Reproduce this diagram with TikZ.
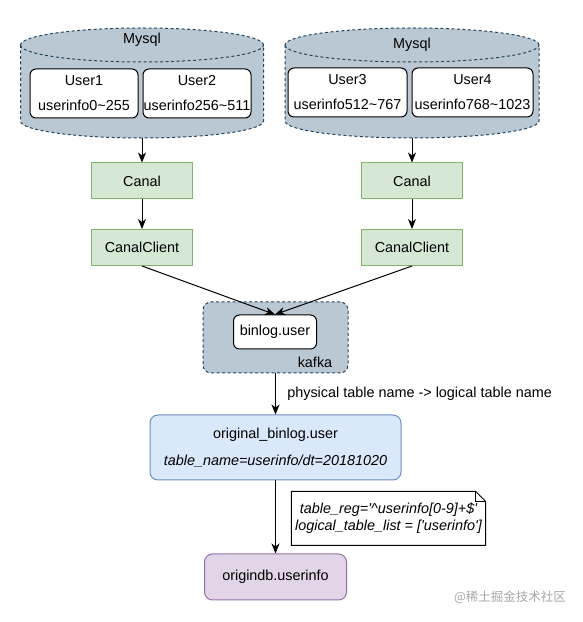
\documentclass[tikz,border=0pt]{standalone}
\usepackage{fontspec}
\setmainfont{Liberation Sans}
\newfontfamily\cjk{Noto Sans CJK SC}
\usetikzlibrary{arrows.meta}
\definecolor{dbfill}{HTML}{BAC8D3}
\definecolor{dbline}{HTML}{23445D}
\definecolor{greenfill}{HTML}{D5E8D4}
\definecolor{greenline}{HTML}{82B366}
\definecolor{bluefill}{HTML}{DAE8FC}
\definecolor{blueline}{HTML}{6C8EBF}
\definecolor{purplefill}{HTML}{E1D5E7}
\definecolor{purpleline}{HTML}{9673A6}

\begin{document}
\begin{tikzpicture}[x=1pt,y=1pt,>={Stealth[length=10pt,width=8pt,inset=3pt]},
  font=\fontsize{14.4}{17}\selectfont, line width=1pt,
  dbline/.style={draw=dbline,dash pattern=on 3pt off 2.5pt},
  tablebox/.style={draw,fill=white,rounded corners=6pt,align=center,inner sep=0pt,minimum height=49pt},
  canalbox/.style={draw=greenline,fill=greenfill,minimum width=101pt,minimum height=36pt},
  roundbox/.style={rounded corners=8pt,align=center}]
\useasboundingbox (0,0) rectangle (583,622);
\foreach \cx/\rx/\nm in {142/121.5/dbA,412/127/dbB}{
  \draw[dbline,fill=dbfill] (\cx-\rx,577) -- (\cx-\rx,501)
    arc[start angle=180,end angle=360,x radius=\rx,y radius=17] -- (\cx+\rx,577)
    arc[start angle=0,end angle=180,x radius=\rx,y radius=17] -- cycle;
  \draw[dbline] (\cx-\rx,577) arc[start angle=180,end angle=360,x radius=\rx,y radius=17];
  \coordinate (\nm) at (\cx,484);
}
\node (mysqlA) at (142,582) {Mysql};
\node (mysqlB) at (412,577) {Mysql};
\node[tablebox,minimum width=108pt] (user1) at (84,528.5) {User1\\[8pt]userinfo0\textasciitilde255};
\node[tablebox,minimum width=108pt] (user2) at (197,528.5) {User2\\[8pt]userinfo256\textasciitilde511};
\node[tablebox,minimum width=119pt] (user3) at (347.5,529.5) {User3\\[8pt]userinfo512\textasciitilde767};
\node[tablebox,minimum width=121pt] (user4) at (472.5,529.5) {User4\\[8pt]userinfo768\textasciitilde1023};

\node[canalbox] (canalA) at (142,441) {Canal};
\node[canalbox] (clientA) at (142,374.5) {CanalClient};
\node[canalbox] (canalB) at (412,441) {Canal};
\node[canalbox] (clientB) at (412,374.5) {CanalClient};

\node[dbline,fill=dbfill,roundbox,minimum width=145pt,minimum height=71pt] (kafka) at (275.5,284.5) {};
\node[tablebox,minimum width=83pt,minimum height=34pt] (binlog) at (275,290) {binlog.user};
\node (kafkalbl) at (315,260) {kafka};

\node[draw=blueline,fill=bluefill,roundbox,minimum width=251pt,minimum height=65pt] (orig) at (275.5,174.5)
  {original\_binlog.user\\[10pt]\itshape table\_name=userinfo/dt=20181020};
\node[fill=white,minimum width=193pt,minimum height=53pt,align=center,font=\fontsize{14.4}{17}\selectfont\itshape] (rule) at (388.5,103.5)
  {table\_reg=\textquotesingle\textasciicircum userinfo[0-9]+\$\textquotesingle\\logical\_table\_list = [\textquotesingle userinfo\textquotesingle]};
\draw (rule.south west) -- (rule.south east) -- ([yshift=-10pt]rule.north east)
  -- ([xshift=-10pt]rule.north east) -- (rule.north west) -- cycle;
\draw ([xshift=-10pt]rule.north east) -- ++(0,-10) -- ++(10,0);
\node[draw=purpleline,fill=purplefill,roundbox,minimum width=142pt,minimum height=46pt] (origdb) at (275.5,45) {origindb.userinfo};
\node[text=black!35,font=\cjk\fontsize{12.5}{14}\selectfont] (mark) at (510,25) {@稀土掘金技术社区};

\draw[->] (dbA) -- (canalA);
\draw[->] (canalA) -- (clientA);
\draw[->] (dbB) -- (canalB);
\draw[->] (canalB) -- (clientB);
\draw[->] (clientA.south) -- (binlog.north);
\draw[->] (clientB.south) -- (binlog.north);
\draw[->] (kafka) -- node[anchor=west,xshift=8pt] (phys) {physical table name -> logical table name} (orig);
\draw[->] (orig) -- (origdb);
\end{tikzpicture}
\end{document}
